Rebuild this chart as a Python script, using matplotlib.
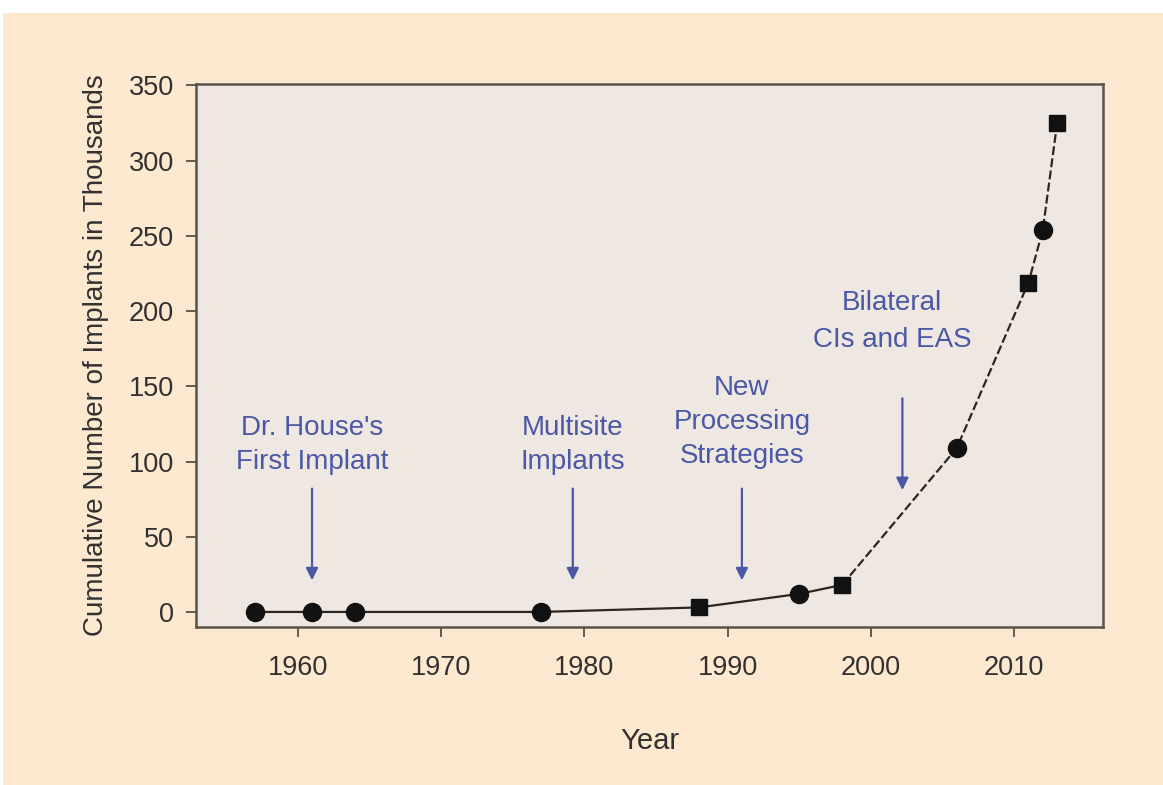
import matplotlib.pyplot as plt
from matplotlib.patches import Rectangle

# data (cumulative implants, thousands)
years = [1957, 1961, 1964, 1977, 1988, 1995, 1998, 2006, 2011, 2012, 2013]
implants = [0, 0, 0, 0, 3, 12, 18, 109, 219, 254, 325]

events = ["Dr. House's\nFirst Implant", "Multisite\nImplants",
          "New\nProcessing\nStrategies", "Bilateral\nCIs and EAS"]
event_years = [1961, 1979.2, 1991, 2002.2]

y_ticks = [0, 50, 100, 150, 200, 250, 300, 350]
x_ticks = [1960, 1970, 1980, 1990, 2000, 2010]

plt.rcParams["font.family"] = ["Liberation Sans", "DejaVu Sans"]

peach = "#fde8d0"
panel = "#efe8e2"
blue = "#4a58a6"
dark = "#2b2622"

fig = plt.figure(figsize=(11.63, 7.85), dpi=100, facecolor="white")
fig.patches.append(Rectangle((0.003, 0.0), 0.997, 0.983, transform=fig.transFigure,
                             facecolor=peach, edgecolor="none", zorder=-10))

ax = fig.add_axes([0.1685, 0.2013, 0.7799, 0.6917])
ax.set_facecolor(panel)

# solid up to 1998, dashed after
split = years.index(1998)
ax.plot(years[:split + 1], implants[:split + 1], color=dark, lw=1.6, zorder=2)
ax.plot(years[split:], implants[split:], color=dark, lw=1.6, ls=(0, (4, 1.5)), zorder=2)
markers = ["o", "o", "o", "o", "s", "o", "s", "o", "s", "o", "s"]
for x, y, m in zip(years, implants, markers):
    ax.plot(x, y, marker=m, color="#111111", ms=13 if m == "o" else 12, ls="none", zorder=3)

# annotations
text_y = [111, 111, 126, 193]
arrow_top = [82, 82, 82, 142]
arrow_bot = [21, 21, 21, 81]
text_x = [1961, 1979.2, 1991, 2001.5]
line_sp = [1.4, 1.4, 1.4, 1.55]
for lab, ex, tx, ty, a0, a1, ls_ in zip(events, event_years, text_x, text_y,
                                        arrow_top, arrow_bot, line_sp):
    ax.text(tx, ty, lab, color=blue, fontsize=20, ha="center", va="center", linespacing=ls_)
    ax.annotate("", xy=(ex, a1), xytext=(ex, a0),
                arrowprops=dict(arrowstyle="-|>", color=blue, lw=1.6,
                                mutation_scale=18, shrinkA=0, shrinkB=0))

ax.set_xlim(1952.9, 2016.2)
ax.set_ylim(-10, 351)
ax.set_xticks(x_ticks)
ax.set_yticks(y_ticks)
ax.tick_params(direction="out", length=7, width=1.2, color="#4a433d",
               labelsize=19.5, labelcolor="#333030")
ax.tick_params(axis="y", pad=9)
ax.tick_params(axis="x", pad=13)
for s in ax.spines.values():
    s.set_color("#5a524b")
    s.set_linewidth(1.8)

ax.set_xlabel("Year", fontsize=21, color="#333030", labelpad=33)
ax.set_ylabel("Cumulative Number of Implants in Thousands", fontsize=20,
              color="#333030", labelpad=14)

fig.savefig("out.png", dpi=100, facecolor=fig.get_facecolor())
